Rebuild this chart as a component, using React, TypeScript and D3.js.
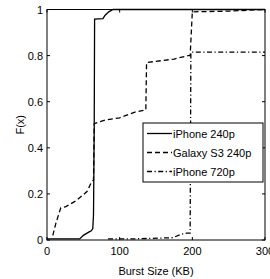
import React from "react";
import * as d3 from "d3";

const xTicks = [0, 100, 200, 300];
const yTicks = [0, 0.2, 0.4, 0.6, 0.8, 1];

const iphone240X = [0, 45, 50, 58, 61, 63, 64, 65, 65.5, 77, 80, 85, 91, 300];
const iphone240Y = [0.005, 0.005, 0.02, 0.035, 0.04, 0.05, 0.11, 0.5, 0.958, 0.96, 0.975, 0.99, 1.0, 1.0];

const galaxyX = [8, 12, 19, 26, 40, 55, 61, 64, 65, 80, 100, 121, 136, 137, 150, 175, 194, 197, 200, 250, 300];
const galaxyY = [0.02, 0.07, 0.14, 0.145, 0.17, 0.21, 0.25, 0.26, 0.505, 0.52, 0.53, 0.555, 0.565, 0.77, 0.775, 0.785, 0.8, 0.8, 0.99, 0.993, 1.0];

const iphone720X = [84, 120, 173, 185, 192, 197, 198, 300];
const iphone720Y = [0.005, 0.005, 0.01, 0.025, 0.03, 0.03, 0.815, 0.815];

const seriesNames = ["iPhone 240p", "Galaxy S3 240p", "iPhone 720p"];
const dashes = ["none", "5,3", "5,2.5,1.2,2.5"];

export default function App() {
  const left = 47, right = 265, top = 9.5, bottom = 240;
  const x = d3.scaleLinear().domain([0, 300]).range([left, right]);
  const y = d3.scaleLinear().domain([0, 1]).range([bottom, top]);
  const line = d3.line<[number, number]>().x(d => x(d[0])).y(d => y(d[1]));
  const data: [number, number][][] = [
    iphone240X.map((v, i) => [v, iphone240Y[i]]),
    galaxyX.map((v, i) => [v, galaxyY[i]]),
    iphone720X.map((v, i) => [v, iphone720Y[i]]),
  ];
  const font = "Liberation Sans, Arial, sans-serif";
  const lx = 143, ly = 123, lw = 120, lh = 59;
  return (
    <svg width={270} height={279} style={{ position: "absolute", left: 0, top: 0, background: "#fff" }} fontFamily={font}>
      <rect x={0} y={0} width={270} height={279} fill="#fff" />
      <defs>
        <clipPath id="pa"><rect x={left} y={top - 2} width={right - left} height={bottom - top + 4} /></clipPath>
      </defs>
      {data.map((d, i) => (
        <path key={i} d={line(d) || ""} fill="none" stroke="#000" strokeWidth={1.3}
          strokeDasharray={dashes[i]} clipPath="url(#pa)" />
      ))}
      <rect x={left} y={top} width={right - left} height={bottom - top} fill="none" stroke="#000" strokeWidth={1} />
      {xTicks.map(t => (
        <g key={"x" + t}>
          <line x1={x(t)} x2={x(t)} y1={bottom} y2={bottom - 3} stroke="#000" />
          <line x1={x(t)} x2={x(t)} y1={top} y2={top + 3} stroke="#000" />
          <text x={x(t)} y={255} fontSize={11} textAnchor="middle">{t}</text>
        </g>
      ))}
      {yTicks.map(t => (
        <g key={"y" + t}>
          <line x1={left} x2={left + 3} y1={y(t)} y2={y(t)} stroke="#000" />
          <line x1={right} x2={right - 3} y1={y(t)} y2={y(t)} stroke="#000" />
          <text x={43} y={y(t) + 4} fontSize={11} textAnchor="end">{t}</text>
        </g>
      ))}
      <text x={(left + right) / 2} y={275} fontSize={11} textAnchor="middle">Burst Size (KB)</text>
      <text transform={`translate(24,${(top + bottom) / 2}) rotate(-90)`} fontSize={11} textAnchor="middle">F(x)</text>
      <rect x={lx} y={ly} width={lw} height={lh} fill="#fff" stroke="#000" strokeWidth={1} />
      {seriesNames.map((n, i) => (
        <g key={n}>
          <line x1={lx + 4} x2={lx + 29} y1={ly + 10.5 + i * 19} y2={ly + 10.5 + i * 19}
            stroke="#000" strokeWidth={1.3} strokeDasharray={dashes[i]} />
          <text x={lx + 30} y={ly + 14.5 + i * 19} fontSize={11}>{n}</text>
        </g>
      ))}
    </svg>
  );
}
